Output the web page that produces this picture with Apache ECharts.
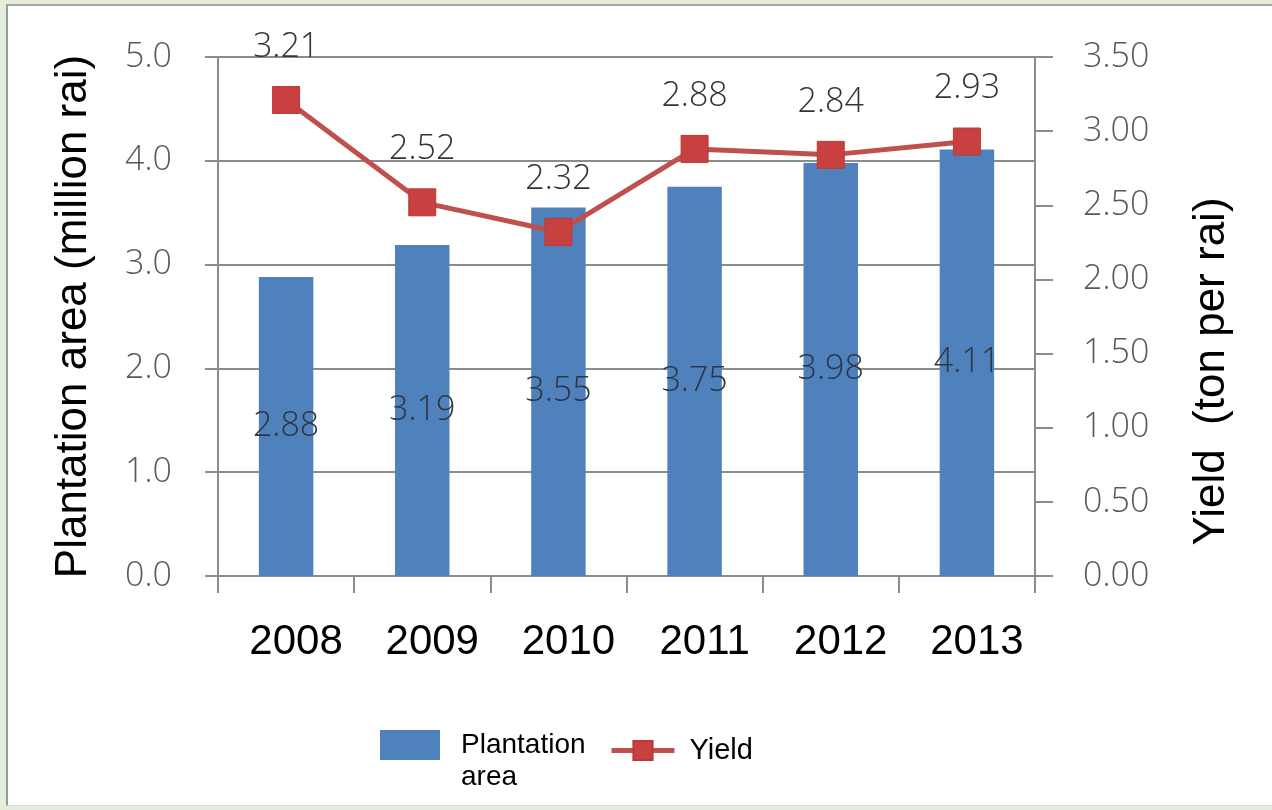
<!DOCTYPE html>
<html>
<head>
<meta charset="utf-8">
<script src="https://cdn.jsdelivr.net/npm/echarts@6/dist/echarts.min.js"></script>
<style>
html,body{margin:0;padding:0;width:1272px;height:810px;overflow:hidden;background:#e4eedb;}
#frame{position:absolute;left:6px;top:4px;width:1266px;height:802px;background:#fff;border-left:2px solid #9a9a9a;border-top:2px solid #a5a5a5;border-bottom:1px solid #d8d8d8;box-sizing:border-box;}
#chart{position:absolute;left:0;top:0;width:1272px;height:810px;}
</style>
</head>
<body>
<div id="frame"></div>
<div id="chart"></div>
<script>
const categories = ['2008', '2009', '2010', '2011', '2012', '2013'];
const plantationArea = [2.88, 3.19, 3.55, 3.75, 3.98, 4.11];
const yieldValues = [3.21, 2.52, 2.32, 2.88, 2.84, 2.93];
const leftTicks = { min: 0, max: 5, interval: 1 };
const rightTicks = { min: 0, max: 3.5, interval: 0.5 };

const numFont = 'Open Sans';
const numWeight = 300;
const chart = echarts.init(document.getElementById('chart'), null, { renderer: 'canvas' });
chart.setOption({
  animation: false,
  backgroundColor: 'transparent',
  grid: { left: 218, right: 237, top: 57, bottom: 234, containLabel: false },
  legend: [{
    data: [{ name: 'Plantation area', icon: 'rect' }],
    left: 375, top: 692,
    itemWidth: 60, itemHeight: 30,
    formatter: function () { return '\u00a0\nPlantation\narea'; },
    textStyle: { fontFamily: 'Liberation Sans', fontSize: 28, color: '#000', lineHeight: 32, padding: [0, 0, 0, 16] }
  }, {
    data: ['Yield'],
    left: 604, top: 731,
    itemWidth: 63, itemHeight: 24,
    lineStyle: { width: 5 },
    textStyle: { fontFamily: 'Liberation Sans', fontSize: 29, color: '#000', padding: [0, 0, 0, 10] }
  }],
  xAxis: {
    type: 'category',
    data: categories,
    axisLine: { show: true, lineStyle: { color: '#8c8c8c', width: 2 } },
    axisTick: { show: true, alignWithLabel: false, length: 17, lineStyle: { color: '#8c8c8c', width: 2 } },
    axisLabel: { margin: 45, fontFamily: 'Liberation Sans', fontSize: 42, color: '#000', padding: [0, 0, 0, 20] }
  },
  yAxis: [{
    type: 'value',
    min: leftTicks.min, max: leftTicks.max, interval: leftTicks.interval,
    name: 'Plantation area (million rai)',
    nameLocation: 'middle', nameRotate: 90, nameGap: 122,
    nameTextStyle: { fontFamily: 'Liberation Sans', fontSize: 44, color: '#000' },
    axisLine: { show: true, lineStyle: { color: '#8c8c8c', width: 2 } },
    axisTick: { show: true, length: 13, lineStyle: { color: '#8c8c8c', width: 2 } },
    axisLabel: { margin: 46, fontFamily: numFont, fontWeight: numWeight, fontSize: 34, color: '#595959', formatter: v => v.toFixed(1) },
    splitLine: { show: true, lineStyle: { color: '#8c8c8c', width: 2 } }
  }, {
    type: 'value',
    min: rightTicks.min, max: rightTicks.max, interval: rightTicks.interval,
    name: 'Yield  (ton per rai)',
    nameLocation: 'middle', nameRotate: 90, nameGap: 155,
    nameTextStyle: { fontFamily: 'Liberation Sans', fontSize: 44, color: '#000', padding: [0, 110, 0, 0] },
    position: 'right',
    axisLine: { show: true, lineStyle: { color: '#8c8c8c', width: 2 } },
    axisTick: { show: true, length: 18, lineStyle: { color: '#8c8c8c', width: 2 } },
    axisLabel: { margin: 48, fontFamily: numFont, fontWeight: numWeight, fontSize: 34, color: '#595959', formatter: v => v.toFixed(2) },
    splitLine: { show: false }
  }],
  series: [{
    name: 'Plantation area',
    type: 'bar',
    data: plantationArea,
    barWidth: '40%',
    itemStyle: { color: '#4f81bd' },
    label: { show: true, position: 'inside', fontFamily: numFont, fontWeight: numWeight, fontSize: 34, color: '#2e3644', formatter: p => p.value.toFixed(2) }
  }, {
    name: 'Yield',
    type: 'line',
    yAxisIndex: 1,
    data: yieldValues,
    symbol: 'rect',
    symbolSize: 27,
    lineStyle: { color: '#c0504d', width: 5 },
    itemStyle: { color: '#c8403f', borderColor: '#b83b38', borderWidth: 1 },
    label: { show: true, position: 'top', distance: 22, fontFamily: numFont, fontWeight: numWeight, fontSize: 34, color: '#333', formatter: p => p.value.toFixed(2) }
  }]
});
</script>
</body>
</html>
